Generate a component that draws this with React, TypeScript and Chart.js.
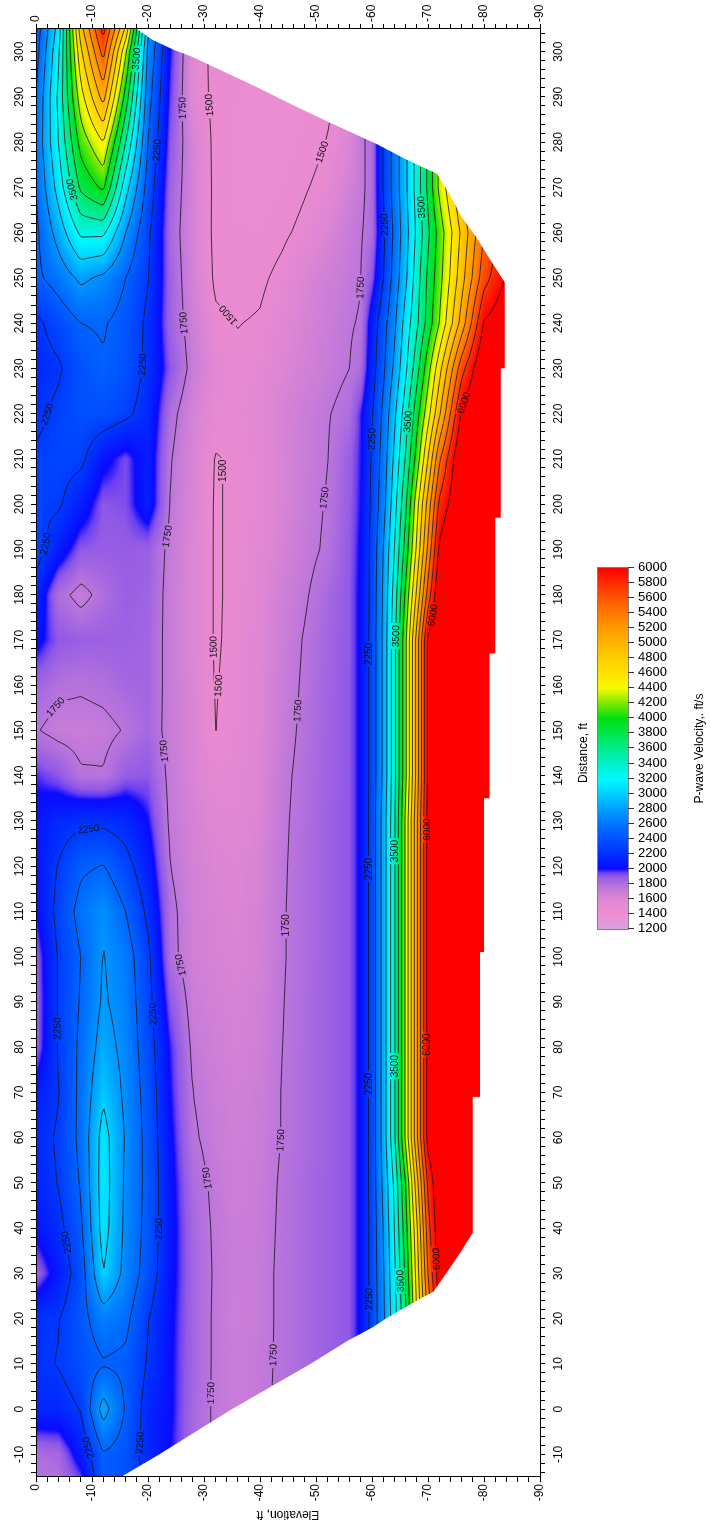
import { useEffect, useRef } from "react";
import { Chart, registerables } from "chart.js";

Chart.register(...registerables);

const FIG_W = 1522;
const FIG_H = 711;
const FONT = '"Liberation Sans", Arial, Helvetica, sans-serif';

// Model columns along the line (ft)
const distanceColumns = [-15, -10, 0, 10, 20, 30, 40, 50, 60, 70, 80, 90, 100, 110, 120, 130, 140, 150, 160, 170, 180, 190, 200, 210, 220, 230, 240, 250, 260, 270, 280, 290, 300, 305];

// Elevation rows (ft) of the three model bands
const shallowRows = [0, -4, -8, -12, -16, -20];
const middleRows = [-24, -28, -32, -36, -40, -44, -48, -52, -56];
const deepRows = [-58, -60, -62, -64, -66, -68, -70, -72, -76, -80, -90];

// P-wave velocity (ft/s), one line per distance column
const shallowVelocity = [
  [1770, 1790, 1950, 2450, 2400, 2200],
  [1800, 1830, 2080, 2480, 2400, 2150],
  [2150, 2150, 2260, 2850, 2480, 2150],
  [2200, 2260, 2380, 2480, 2450, 2230],
  [2200, 2240, 2420, 2640, 2560, 2260],
  [1850, 2080, 2380, 3000, 2680, 2390],
  [2050, 2180, 2460, 3100, 2700, 2420],
  [2120, 2260, 2520, 3120, 2710, 2430],
  [2150, 2280, 2560, 3100, 2730, 2420],
  [2080, 2240, 2560, 2960, 2700, 2400],
  [1860, 2270, 2550, 2850, 2680, 2360],
  [1850, 2270, 2520, 2780, 2650, 2330],
  [1870, 2270, 2500, 2760, 2620, 2300],
  [2000, 2320, 2580, 2720, 2500, 2200],
  [2050, 2260, 2460, 2510, 2330, 2100],
  [2050, 2150, 2200, 2200, 2150, 2000],
  [1970, 1900, 1770, 1760, 1880, 1900],
  [1760, 1700, 1690, 1710, 1760, 1830],
  [1850, 1780, 1770, 1790, 1830, 1840],
  [2050, 1900, 1870, 1860, 1860, 1840],
  [2150, 1800, 1700, 1800, 1870, 1850],
  [2350, 2100, 1900, 1880, 1880, 1870],
  [2300, 2280, 2100, 1900, 1920, 2100],
  [2280, 2320, 2300, 2050, 1930, 2100],
  [2200, 2300, 2380, 2380, 2300, 2150],
  [2150, 2220, 2400, 2480, 2400, 2200],
  [2200, 2350, 2500, 2520, 2420, 2200],
  [2450, 2600, 2800, 2700, 2500, 2260],
  [2450, 2850, 3300, 3300, 2750, 2300],
  [2500, 3100, 3800, 4050, 3100, 2400],
  [2550, 3250, 4100, 4500, 3500, 2500],
  [2500, 3300, 4400, 5100, 3900, 2600],
  [2400, 3200, 4700, 5600, 4300, 2700],
  [2350, 3100, 4900, 5850, 4700, 2800],
];

const middleVelocity = [
  [2000, 1830, 1730, 1690, 1720, 1780, 1820, 1860, 1900],
  [2000, 1830, 1730, 1690, 1720, 1780, 1820, 1860, 1900],
  [2020, 1830, 1730, 1690, 1720, 1780, 1820, 1860, 1900],
  [2020, 1840, 1730, 1690, 1715, 1775, 1820, 1860, 1900],
  [2030, 1840, 1730, 1680, 1710, 1775, 1820, 1860, 1900],
  [2050, 1840, 1735, 1685, 1710, 1775, 1820, 1860, 1900],
  [2060, 1830, 1730, 1685, 1705, 1770, 1820, 1860, 1900],
  [2050, 1810, 1720, 1675, 1700, 1765, 1815, 1860, 1900],
  [2030, 1770, 1700, 1665, 1690, 1755, 1810, 1860, 1900],
  [2000, 1750, 1690, 1655, 1685, 1755, 1810, 1860, 1900],
  [1980, 1720, 1670, 1640, 1670, 1750, 1805, 1860, 1900],
  [1900, 1690, 1650, 1630, 1660, 1745, 1805, 1860, 1900],
  [1800, 1660, 1630, 1610, 1645, 1740, 1800, 1855, 1900],
  [1790, 1660, 1620, 1600, 1640, 1740, 1800, 1855, 1900],
  [1750, 1650, 1600, 1590, 1630, 1735, 1800, 1855, 1900],
  [1720, 1640, 1580, 1570, 1610, 1730, 1795, 1855, 1900],
  [1710, 1620, 1540, 1550, 1600, 1720, 1790, 1850, 1900],
  [1700, 1610, 1498, 1540, 1590, 1700, 1780, 1845, 1900],
  [1700, 1605, 1495, 1530, 1590, 1690, 1770, 1840, 1900],
  [1700, 1600, 1490, 1525, 1585, 1680, 1760, 1835, 1900],
  [1700, 1600, 1490, 1520, 1580, 1665, 1735, 1820, 1900],
  [1710, 1600, 1490, 1520, 1560, 1640, 1710, 1770, 1890],
  [1740, 1610, 1490, 1520, 1540, 1620, 1700, 1760, 1880],
  [1760, 1620, 1495, 1510, 1550, 1620, 1690, 1745, 1870],
  [1800, 1640, 1530, 1530, 1560, 1630, 1690, 1740, 1800],
  [1900, 1700, 1560, 1520, 1540, 1600, 1650, 1700, 1750],
  [1850, 1680, 1520, 1497, 1510, 1570, 1630, 1690, 1740],
  [1850, 1650, 1480, 1460, 1480, 1530, 1610, 1670, 1720],
  [1830, 1640, 1470, 1440, 1440, 1480, 1530, 1610, 1700],
  [1850, 1650, 1470, 1430, 1420, 1440, 1490, 1540, 1650],
  [1900, 1630, 1470, 1430, 1410, 1420, 1450, 1505, 1600],
  [1950, 1570, 1470, 1440, 1420, 1420, 1430, 1470, 1580],
  [2000, 1560, 1470, 1450, 1430, 1420, 1430, 1470, 1580],
  [2050, 1580, 1480, 1450, 1430, 1420, 1430, 1470, 1580],
];

const deepVelocity = [
  [2030, 2330, 2700, 3150, 3700, 4500, 5300, 6020, 6400, 6500, 6600],
  [2030, 2330, 2700, 3150, 3700, 4500, 5300, 6020, 6400, 6500, 6600],
  [2030, 2330, 2700, 3150, 3700, 4500, 5300, 6020, 6400, 6500, 6600],
  [2030, 2330, 2700, 3150, 3700, 4500, 5300, 6020, 6400, 6500, 6600],
  [2030, 2330, 2700, 3150, 3700, 4500, 5300, 6020, 6400, 6500, 6600],
  [2030, 2340, 2720, 3200, 3800, 4600, 5500, 6150, 6450, 6550, 6600],
  [2030, 2340, 2750, 3250, 3900, 4700, 5650, 6200, 6500, 6600, 6600],
  [2030, 2350, 2800, 3300, 4000, 4900, 5800, 6250, 6500, 6600, 6600],
  [2030, 2350, 2850, 3450, 4300, 5200, 6100, 6300, 6500, 6600, 6600],
  [2030, 2350, 2850, 3450, 4300, 5200, 6100, 6300, 6500, 6600, 6600],
  [2030, 2350, 2850, 3450, 4300, 5200, 6100, 6300, 6500, 6600, 6600],
  [2030, 2350, 2850, 3450, 4300, 5200, 6100, 6300, 6500, 6600, 6600],
  [2030, 2350, 2850, 3450, 4300, 5200, 6100, 6300, 6500, 6600, 6600],
  [2030, 2350, 2850, 3450, 4300, 5200, 6100, 6300, 6500, 6600, 6600],
  [2030, 2350, 2850, 3450, 4300, 5200, 6100, 6300, 6500, 6600, 6600],
  [2030, 2350, 2850, 3450, 4300, 5200, 6100, 6300, 6500, 6600, 6600],
  [2030, 2340, 2800, 3420, 4200, 5100, 6050, 6300, 6500, 6600, 6600],
  [2030, 2340, 2800, 3420, 4200, 5100, 6050, 6300, 6500, 6600, 6600],
  [2030, 2340, 2800, 3420, 4200, 5100, 6050, 6300, 6500, 6600, 6600],
  [2030, 2340, 2800, 3420, 4200, 5100, 6050, 6300, 6500, 6600, 6600],
  [2030, 2330, 2780, 3350, 4050, 4800, 5600, 6250, 6500, 6600, 6600],
  [2020, 2320, 2750, 3250, 3850, 4550, 5300, 6050, 6450, 6600, 6600],
  [2000, 2300, 2650, 3150, 3700, 4400, 5100, 5800, 6300, 6500, 6600],
  [1990, 2280, 2600, 3050, 3520, 4100, 4750, 5450, 6300, 6500, 6600],
  [1980, 2230, 2550, 2950, 3380, 3900, 4400, 4950, 6050, 6400, 6600],
  [1800, 2150, 2450, 2800, 3200, 3650, 4150, 4650, 5650, 6300, 6600],
  [1760, 2100, 2400, 2700, 3100, 3450, 3850, 4250, 5100, 6020, 6500],
  [1745, 1900, 2240, 2600, 2950, 3380, 3800, 4150, 4900, 5650, 6600],
  [1740, 1800, 2200, 2550, 2900, 3300, 3700, 4100, 4800, 5500, 6400],
  [1720, 1800, 2260, 2600, 2950, 3350, 3800, 4300, 5000, 5600, 6400],
  [1720, 1800, 2260, 2600, 2950, 3350, 3800, 4300, 5000, 5600, 6400],
  [1720, 1800, 2260, 2600, 2950, 3350, 3800, 4300, 5000, 5600, 6400],
  [1720, 1800, 2260, 2600, 2950, 3350, 3800, 4300, 5000, 5600, 6400],
  [1720, 1800, 2260, 2600, 2950, 3350, 3800, 4300, 5000, 5600, 6400],
];

// Lower limit of ray coverage (distance ft, elevation ft)
const edgeDistance = [-15, -10, -5, 0, 5, 10, 15, 18, 20, 22, 26, 31, 35, 39, 69, 69, 101, 101, 135, 135, 167, 167, 197, 197, 230, 230, 249, 254, 259, 263.5, 268.6, 273, 276.3, 279.6, 284.3, 288, 292.3, 296, 298.9, 300.4, 302.6, 305];
const edgeElevation = [-15.2, -22, -28.5, -35, -42, -49, -55.5, -60, -62.5, -65.2, -71, -73.8, -76, -78, -78, -79.3, -79.3, -80, -80, -81, -81, -82, -82, -83, -83, -83.7, -83.7, -81.1, -78.6, -76, -73.8, -71.6, -65.9, -60.8, -52.5, -46.2, -39.2, -32.8, -27.8, -24.6, -20.8, -18];

// Colour scale
const paletteValues = [1200, 1300, 1400, 1500, 1600, 1700, 1800, 1900, 1950, 2000, 2200, 2400, 2600, 2800, 3000, 3200, 3400, 3600, 3800, 4000, 4200, 4400, 4600, 4800, 5000, 5200, 5400, 5600, 5800, 6000];
const paletteColors = ["#d9a0e2", "#e498d8", "#ec8ed2", "#ea8ad0", "#dc86d4", "#c87cd8", "#ae6ede", "#9058e6", "#6a3ef2", "#0a0aff", "#0030ff", "#0052ff", "#0076ff", "#00a0ff", "#00d2ff", "#00f8ff", "#00f0c8", "#00ec8c", "#00e64c", "#00e010", "#7ce800", "#f6fa00", "#ffe200", "#ffcc00", "#ffb400", "#ff9a00", "#ff7a00", "#ff5400", "#ff2a00", "#ff0000"];

const contourLevels = [1500, 1750, 2250, 2500, 2750, 3000, 3250, 3500, 3750, 4000, 4250, 4500, 4750, 5000, 5250, 5500, 5750, 6000];
const labeledLevels = [1500, 1750, 2250, 3500, 6000];

const colorbarTicks = [1200, 1400, 1600, 1800, 2000, 2200, 2400, 2600, 2800, 3000, 3200, 3400, 3600, 3800, 4000, 4200, 4400, 4600, 4800, 5000, 5200, 5400, 5600, 5800, 6000];

const distanceTicks: number[] = [];
for (let v = -14; v <= 304; v += 2) distanceTicks.push(v);
const elevationTicks: number[] = [];
for (let v = -90; v <= 0; v += 2) elevationTicks.push(v);

// ---- model lookup ----
const allRows = [...shallowRows, ...middleRows, ...deepRows];
const rowDepth = allRows.map((r) => -r);
const profiles = distanceColumns.map((_, k) => [...shallowVelocity[k], ...middleVelocity[k], ...deepVelocity[k]]);

function bracket(arr: number[], v: number): [number, number] {
  const n = arr.length;
  if (v <= arr[0]) return [0, 0];
  if (v >= arr[n - 1]) return [n - 2, 1];
  let lo = 0;
  let hi = n - 1;
  while (hi - lo > 1) {
    const mid = (lo + hi) >> 1;
    if (arr[mid] <= v) lo = mid;
    else hi = mid;
  }
  const span = arr[hi] - arr[lo];
  return [lo, span > 0 ? (v - arr[lo]) / span : 0];
}

function velocityAt(d: number, e: number): number {
  const [i, t] = bracket(distanceColumns, d);
  const [j, u] = bracket(rowDepth, -e);
  const p0 = profiles[i];
  const p1 = profiles[i + 1];
  const a = p0[j] * (1 - t) + p1[j] * t;
  const b = p0[j + 1] * (1 - t) + p1[j + 1] * t;
  return a * (1 - u) + b * u;
}

function bottomAt(d: number): number {
  const [i, t] = bracket(edgeDistance, d);
  return edgeElevation[i] * (1 - t) + edgeElevation[i + 1] * t;
}

// ---- colour lookup table ----
const LUT_MIN = 1200;
const LUT_MAX = 6000;
const lut = new Uint8ClampedArray((LUT_MAX - LUT_MIN + 1) * 3);
(() => {
  const rgb = paletteColors.map((h) => [parseInt(h.slice(1, 3), 16), parseInt(h.slice(3, 5), 16), parseInt(h.slice(5, 7), 16)]);
  for (let v = LUT_MIN; v <= LUT_MAX; v++) {
    const [k, t] = bracket(paletteValues, v);
    const c0 = rgb[k];
    const c1 = rgb[k + 1];
    const o = (v - LUT_MIN) * 3;
    lut[o] = c0[0] + (c1[0] - c0[0]) * t;
    lut[o + 1] = c0[1] + (c1[1] - c0[1]) * t;
    lut[o + 2] = c0[2] + (c1[2] - c0[2]) * t;
  }
})();

function lutIndex(v: number): number {
  const c = Math.round(Math.min(LUT_MAX, Math.max(LUT_MIN, v)));
  return (c - LUT_MIN) * 3;
}

function cssColor(v: number): string {
  const o = lutIndex(v);
  return `rgb(${lut[o]},${lut[o + 1]},${lut[o + 2]})`;
}

// ---- marching squares ----
type Pt = [number, number];

function traceLevel(field: Float64Array, nx: number, ny: number, gx: number[], gy: number[], level: number): Pt[][] {
  const segA: number[] = [];
  const segB: number[] = [];
  const add = (p: number, q: number) => {
    segA.push(p);
    segB.push(q);
  };
  for (let j = 0; j < ny - 1; j++) {
    for (let i = 0; i < nx - 1; i++) {
      const a = field[j * nx + i];
      const b = field[j * nx + i + 1];
      const c = field[(j + 1) * nx + i + 1];
      const d = field[(j + 1) * nx + i];
      if (a !== a || b !== b || c !== c || d !== d) continue;
      let idx = 0;
      if (a >= level) idx |= 8;
      if (b >= level) idx |= 4;
      if (c >= level) idx |= 2;
      if (d >= level) idx |= 1;
      if (idx === 0 || idx === 15) continue;
      const T = (j * nx + i) * 2;
      const B = ((j + 1) * nx + i) * 2;
      const L = (j * nx + i) * 2 + 1;
      const R = (j * nx + i + 1) * 2 + 1;
      const m = (a + b + c + d) / 4;
      switch (idx) {
        case 1: case 14: add(L, B); break;
        case 2: case 13: add(B, R); break;
        case 3: case 12: add(L, R); break;
        case 4: case 11: add(T, R); break;
        case 6: case 9: add(T, B); break;
        case 7: case 8: add(L, T); break;
        case 5:
          if (m >= level) { add(L, T); add(B, R); } else { add(T, R); add(L, B); }
          break;
        case 10:
          if (m >= level) { add(T, R); add(L, B); } else { add(L, T); add(B, R); }
          break;
      }
    }
  }
  const point = (key: number): Pt => {
    const cell = key >> 1;
    const i = cell % nx;
    const j = (cell - i) / nx;
    if ((key & 1) === 0) {
      const v0 = field[j * nx + i];
      const v1 = field[j * nx + i + 1];
      const t = (level - v0) / (v1 - v0);
      return [gx[i] + (gx[i + 1] - gx[i]) * t, gy[j]];
    }
    const v0 = field[j * nx + i];
    const v1 = field[(j + 1) * nx + i];
    const t = (level - v0) / (v1 - v0);
    return [gx[i], gy[j] + (gy[j + 1] - gy[j]) * t];
  };
  const byKey = new Map<number, number[]>();
  for (let s = 0; s < segA.length; s++) {
    for (const k of [segA[s], segB[s]]) {
      const list = byKey.get(k);
      if (list) list.push(s);
      else byKey.set(k, [s]);
    }
  }
  const used = new Uint8Array(segA.length);
  const walk = (start: number, out: number[]) => {
    let cur = start;
    for (;;) {
      const list = byKey.get(cur) || [];
      let next = -1;
      for (const s of list) {
        if (!used[s]) { next = s; break; }
      }
      if (next < 0) break;
      used[next] = 1;
      cur = segA[next] === cur ? segB[next] : segA[next];
      out.push(cur);
    }
  };
  const lines: Pt[][] = [];
  for (let s = 0; s < segA.length; s++) {
    if (used[s]) continue;
    used[s] = 1;
    const fwd: number[] = [segA[s], segB[s]];
    walk(segB[s], fwd);
    const back: number[] = [];
    walk(segA[s], back);
    const keys = back.reverse().concat(fwd);
    const pts = keys.map(point);
    if (pts[0][0] > pts[pts.length - 1][0]) pts.reverse();
    lines.push(pts);
  }
  return lines;
}

type Label = { x: number; y: number; angle: number; text: string };

const LABEL_SPACING = 215;
const LABEL_OFFSET = 30;
const LABEL_MIN_LENGTH = 110;

function placeLabels(line: Pt[], text: string): Label[] {
  const cum = [0];
  for (let k = 1; k < line.length; k++) {
    cum.push(cum[k - 1] + Math.hypot(line[k][0] - line[k - 1][0], line[k][1] - line[k - 1][1]));
  }
  const total = cum[cum.length - 1];
  if (total < LABEL_MIN_LENGTH) return [];
  const at = (s: number): Pt => {
    const ss = Math.max(0, Math.min(total, s));
    let k = 0;
    while (k < cum.length - 2 && cum[k + 1] < ss) k++;
    const seg = cum[k + 1] - cum[k];
    const t = seg > 0 ? (ss - cum[k]) / seg : 0;
    return [line[k][0] + (line[k + 1][0] - line[k][0]) * t, line[k][1] + (line[k + 1][1] - line[k][1]) * t];
  };
  const out: Label[] = [];
  for (let s = LABEL_OFFSET; s < total - 15; s += LABEL_SPACING) {
    const p = at(s);
    const p0 = at(s - 10);
    const p1 = at(s + 10);
    let angle = Math.atan2(p1[1] - p0[1], p1[0] - p0[0]);
    if (angle > Math.PI / 2) angle -= Math.PI;
    if (angle <= -Math.PI / 2) angle += Math.PI;
    out.push({ x: p[0], y: p[1], angle, text });
  }
  return out;
}

function sectionPath(ctx: CanvasRenderingContext2D, xs: any, ys: any) {
  ctx.beginPath();
  ctx.moveTo(xs.getPixelForValue(distanceColumns[0]), ys.getPixelForValue(0));
  ctx.lineTo(xs.getPixelForValue(distanceColumns[distanceColumns.length - 1]), ys.getPixelForValue(0));
  for (let k = edgeDistance.length - 1; k >= 0; k--) {
    ctx.lineTo(xs.getPixelForValue(edgeDistance[k]), ys.getPixelForValue(edgeElevation[k]));
  }
  ctx.closePath();
}

const sectionPlugin = {
  id: "velocitySection",
  beforeDraw(chart: any) {
    const { ctx, chartArea, scales } = chart;
    const xs = scales.x;
    const ys = scales.y;
    const left = Math.round(chartArea.left);
    const top = Math.round(chartArea.top);
    const w = Math.round(chartArea.right) - left;
    const h = Math.round(chartArea.bottom) - top;

    // colour raster
    const off = document.createElement("canvas");
    off.width = w;
    off.height = h;
    const octx = off.getContext("2d")!;
    const img = octx.createImageData(w, h);
    const px = img.data;
    const dAt = new Float64Array(w);
    for (let i = 0; i < w; i++) dAt[i] = xs.getValueForPixel(left + i + 0.5);
    for (let j = 0; j < h; j++) {
      const e = ys.getValueForPixel(top + j + 0.5);
      for (let i = 0; i < w; i++) {
        const c = lutIndex(velocityAt(dAt[i], e));
        const o = (j * w + i) * 4;
        px[o] = lut[c];
        px[o + 1] = lut[c + 1];
        px[o + 2] = lut[c + 2];
        px[o + 3] = 255;
      }
    }
    octx.putImageData(img, 0, 0);

    ctx.save();
    sectionPath(ctx, xs, ys);
    ctx.clip();
    ctx.drawImage(off, left, top);

    // sampled field for contouring
    const step = 2;
    const gx: number[] = [];
    for (let x = left; x < left + w; x += step) gx.push(x);
    gx.push(left + w);
    const gy: number[] = [];
    for (let y = top; y < top + h; y += step) gy.push(y);
    gy.push(top + h);
    const nx = gx.length;
    const ny = gy.length;
    const field = new Float64Array(nx * ny);
    const gd = gx.map((x) => xs.getValueForPixel(x));
    const gb = gd.map((d) => bottomAt(d));
    for (let j = 0; j < ny; j++) {
      const e = ys.getValueForPixel(gy[j]);
      for (let i = 0; i < nx; i++) {
        field[j * nx + i] = e >= gb[i] - 0.6 ? velocityAt(gd[i], e) : NaN;
      }
    }

    const lines = contourLevels.map((lv) => traceLevel(field, nx, ny, gx, gy, lv));
    ctx.font = `10px ${FONT}`;
    const labels: Label[] = [];
    contourLevels.forEach((lv, k) => {
      if (!labeledLevels.includes(lv)) return;
      for (const ln of lines[k]) labels.push(...placeLabels(ln, String(lv)));
    });

    // contour lines, broken where labels sit
    ctx.save();
    ctx.beginPath();
    ctx.rect(left - 10, top - 10, w + 20, h + 20);
    for (const lb of labels) {
      const hw = ctx.measureText(lb.text).width / 2 + 2;
      const hh = 5;
      const cs = Math.cos(lb.angle);
      const sn = Math.sin(lb.angle);
      const corners: Pt[] = [[-hw, -hh], [hw, -hh], [hw, hh], [-hw, hh]];
      corners.forEach(([cx, cy], n) => {
        const X = lb.x + cx * cs - cy * sn;
        const Y = lb.y + cx * sn + cy * cs;
        if (n === 0) ctx.moveTo(X, Y);
        else ctx.lineTo(X, Y);
      });
      ctx.closePath();
    }
    ctx.clip("evenodd");
    ctx.strokeStyle = "#161616";
    ctx.lineWidth = 0.8;
    ctx.lineJoin = "round";
    for (const set of lines) {
      ctx.beginPath();
      for (const ln of set) {
        ctx.moveTo(ln[0][0], ln[0][1]);
        for (let k = 1; k < ln.length; k++) ctx.lineTo(ln[k][0], ln[k][1]);
      }
      ctx.stroke();
    }
    ctx.restore();

    ctx.fillStyle = "#111";
    ctx.textAlign = "center";
    ctx.textBaseline = "middle";
    for (const lb of labels) {
      ctx.save();
      ctx.translate(lb.x, lb.y);
      ctx.rotate(lb.angle);
      ctx.fillText(lb.text, 0, 0.5);
      ctx.restore();
    }
    ctx.restore();
  },
  afterDraw(chart: any) {
    const { ctx } = chart;
    const x0 = 593;
    const x1 = 954;
    const y0 = 598;
    const y1 = 628;
    const vMin = colorbarTicks[0];
    const vMax = colorbarTicks[colorbarTicks.length - 1];
    ctx.save();
    for (let p = x0; p < x1; p++) {
      const v = vMin + ((p - x0 + 0.5) / (x1 - x0)) * (vMax - vMin);
      ctx.fillStyle = cssColor(v);
      ctx.fillRect(p, y0, 1, y1 - y0);
    }
    ctx.strokeStyle = "#808080";
    ctx.lineWidth = 1;
    ctx.strokeRect(x0 - 0.5, y0 - 0.5, x1 - x0 + 1, y1 - y0 + 1);
    ctx.strokeStyle = "#333";
    ctx.fillStyle = "#000";
    ctx.font = `13px ${FONT}`;
    ctx.textAlign = "left";
    ctx.textBaseline = "middle";
    for (const v of colorbarTicks) {
      const x = Math.round(x0 + ((v - vMin) / (vMax - vMin)) * (x1 - x0)) + 0.5;
      ctx.beginPath();
      ctx.moveTo(x, y1);
      ctx.lineTo(x, y1 + 6);
      ctx.stroke();
      ctx.save();
      ctx.translate(x, y1 + 10);
      ctx.rotate(Math.PI / 2);
      ctx.fillText(String(v), 0, 0);
      ctx.restore();
    }
    ctx.font = `12px ${FONT}`;
    ctx.textAlign = "center";
    ctx.fillText("P-wave Velocity,. ft/s", (x0 + x1) / 2, 700);
    ctx.restore();
  },
};

const axisFont = { family: FONT, size: 12 };

function fixedTicks(values: number[]) {
  return (scale: any) => {
    scale.ticks = values.map((v) => ({ value: v }));
  };
}

const tenths = (v: any) => (Number(v) % 10 === 0 ? String(Number(v)) : "");

function axis(position: string, values: number[], min: number, max: number, size: number, pad: number, title?: string, titlePad?: any) {
  const horizontal = position === "top" || position === "bottom";
  return {
    type: "linear",
    position,
    min,
    max,
    afterBuildTicks: fixedTicks(values),
    afterFit: (s: any) => {
      if (horizontal) s.height = size;
      else s.width = size;
    },
    ticks: {
      autoSkip: false,
      maxRotation: 0,
      minRotation: 0,
      padding: pad,
      font: axisFont,
      color: "#000",
      callback: tenths,
    },
    grid: { drawOnChartArea: false, drawTicks: true, tickLength: 5, color: "#000", lineWidth: 1 },
    border: { display: true, color: "#000", width: 1 },
    title: title
      ? { display: true, text: title, font: axisFont, color: "#000", padding: titlePad }
      : { display: false },
  };
}

export default function App() {
  const canvasRef = useRef<HTMLCanvasElement | null>(null);

  useEffect(() => {
    const canvas = canvasRef.current;
    if (!canvas) return;
    const chart = new Chart(canvas, {
      type: "scatter",
      data: { datasets: [{ data: [], xAxisID: "x", yAxisID: "y" }] },
      options: {
        responsive: false,
        animation: false,
        devicePixelRatio: 1,
        layout: { padding: { left: 0, right: 0, top: 0, bottom: 111 } },
        plugins: { legend: { display: false }, tooltip: { enabled: false } },
        scales: {
          x: axis("bottom", distanceTicks, -15, 305, 60, 6, "Distance, ft", { top: 0, bottom: 9 }),
          x2: axis("top", distanceTicks, -15, 305, 36, 4),
          y: axis("left", elevationTicks, -90, 0, 45, 2, "Elevation, ft", { top: 0, bottom: 0 }),
          y2: axis("right", elevationTicks, -90, 0, 29, 2),
        },
      } as any,
      plugins: [sectionPlugin as any],
    });
    return () => chart.destroy();
  }, []);

  return (
    <div style={{ position: "absolute", left: 0, top: 0, width: FIG_H, height: FIG_W, overflow: "hidden", background: "#fff" }}>
      <div
        style={{
          position: "absolute",
          left: 0,
          top: 0,
          width: FIG_W,
          height: FIG_H,
          transformOrigin: "0 0",
          transform: `translate(0px, ${FIG_W}px) rotate(-90deg)`,
        }}
      >
        <canvas ref={canvasRef} width={FIG_W} height={FIG_H} style={{ display: "block", width: FIG_W, height: FIG_H }} />
      </div>
    </div>
  );
}
